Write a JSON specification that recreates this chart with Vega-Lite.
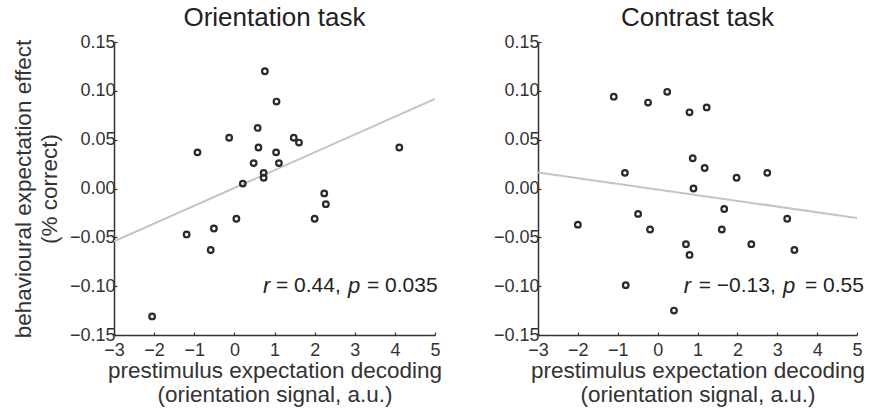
{
  "$schema": "https://vega.github.io/schema/vega-lite/v6.json",
  "padding": {"left": 12, "top": 5, "right": 5, "bottom": 5},
  "background": "white",
  "config": {
    "view": {"stroke": null},
    "font": "Liberation Sans",
    "axis": {
      "grid": false,
      "domainColor": "#333333",
      "domainWidth": 1.5,
      "tickColor": "#333333",
      "tickWidth": 1.2,
      "tickSize": -3,
      "labelColor": "#333333",
      "labelFontSize": 18,
      "labelOverlap": false,
      "labelFlush": false,
      "labelFont": "Liberation Sans",
      "titleFont": "Liberation Sans",
      "titleFontSize": 22.5,
      "titleFontWeight": "normal",
      "titleColor": "#333333"
    },
    "title": {"fontSize": 26, "fontWeight": "normal", "color": "#222222", "font": "Liberation Sans"}
  },
  "datasets": {
    "orientation": [
      {"x": 0.76, "y": 0.120}, {"x": 1.05, "y": 0.089}, {"x": 0.58, "y": 0.062},
      {"x": -0.13, "y": 0.052}, {"x": -0.92, "y": 0.037}, {"x": 0.60, "y": 0.042},
      {"x": 1.48, "y": 0.052}, {"x": 1.61, "y": 0.047}, {"x": 1.04, "y": 0.037},
      {"x": 0.48, "y": 0.026}, {"x": 1.11, "y": 0.026}, {"x": 0.73, "y": 0.016},
      {"x": 0.73, "y": 0.011}, {"x": 0.21, "y": 0.005}, {"x": 4.11, "y": 0.042},
      {"x": 2.24, "y": -0.005}, {"x": 2.28, "y": -0.016}, {"x": 0.05, "y": -0.031},
      {"x": 2.0, "y": -0.031}, {"x": -1.19, "y": -0.047}, {"x": -0.51, "y": -0.041},
      {"x": -0.59, "y": -0.063}, {"x": -2.05, "y": -0.131}
    ],
    "contrast": [
      {"x": -1.10, "y": 0.094}, {"x": -0.24, "y": 0.088}, {"x": 0.24, "y": 0.099},
      {"x": 0.80, "y": 0.078}, {"x": 1.23, "y": 0.083}, {"x": 0.88, "y": 0.031},
      {"x": 1.18, "y": 0.021}, {"x": -0.82, "y": 0.016}, {"x": 1.98, "y": 0.011},
      {"x": 2.75, "y": 0.016}, {"x": 0.90, "y": 0.000}, {"x": 1.67, "y": -0.021},
      {"x": -0.49, "y": -0.026}, {"x": 3.25, "y": -0.031}, {"x": -2.0, "y": -0.037},
      {"x": -0.19, "y": -0.042}, {"x": 1.61, "y": -0.042}, {"x": 0.71, "y": -0.057},
      {"x": 0.80, "y": -0.068}, {"x": 2.35, "y": -0.057}, {"x": 3.43, "y": -0.063},
      {"x": -0.80, "y": -0.099}, {"x": 0.41, "y": -0.125}
    ],
    "annot_orientation": [
      {"piece": "r", "style": "italic", "offset": -172},
      {"piece": "= 0.44,", "style": "normal", "offset": -159},
      {"piece": "p", "style": "italic", "offset": -87},
      {"piece": "= 0.035", "style": "normal", "offset": -68}
    ],
    "annot_contrast": [
      {"piece": "r", "style": "italic", "offset": -173.3},
      {"piece": "= −0.13,", "style": "normal", "offset": -158.3},
      {"piece": "p", "style": "italic", "offset": -74},
      {"piece": "= 0.55", "style": "normal", "offset": -52}
    ]
  },
  "hconcat": [
    {
      "width": 321,
      "height": 293,
      "title": {"text": "Orientation task", "offset": 2},
      "layer": [
        {
          "data": {"name": "orientation"},
          "transform": [{"regression": "y", "on": "x", "extent": [-3, 5]}],
          "mark": {"type": "line", "color": "#c4c4c4", "strokeWidth": 2, "clip": true},
          "encoding": {
            "x": {"field": "x", "type": "quantitative", "scale": {"domain": [-3, 5], "nice": false, "zero": false},
                  "axis": {"values": [-3, -2, -1, 0, 1, 2, 3, 4, 5], "labelOverlap": false, "title": ["prestimulus expectation decoding", "(orientation signal, a.u.)"], "labelPadding": 9, "titlePadding": 0, "titleLineHeight": 24}},
            "y": {"field": "y", "type": "quantitative", "scale": {"domain": [-0.15, 0.15], "nice": false, "zero": false},
                  "axis": {"values": [-0.15, -0.1, -0.05, 0, 0.05, 0.1, 0.15], "labelOverlap": false, "format": ".2f", "title": ["behavioural expectation effect", "(% correct)"], "labelPadding": 2, "titlePadding": 8, "titleLineHeight": 26}}
          }
        },
        {
          "data": {"name": "orientation"},
          "mark": {"type": "point", "shape": "circle", "filled": false, "stroke": "#2a2a2a", "strokeWidth": 2.2, "size": 32, "opacity": 1},
          "encoding": {
            "x": {"field": "x", "type": "quantitative", "scale": {"domain": [-3, 5], "nice": false, "zero": false},
                  "axis": {"values": [-3, -2, -1, 0, 1, 2, 3, 4, 5], "labelOverlap": false, "title": ["prestimulus expectation decoding", "(orientation signal, a.u.)"], "labelPadding": 9, "titlePadding": 0, "titleLineHeight": 24}},
            "y": {"field": "y", "type": "quantitative", "scale": {"domain": [-0.15, 0.15], "nice": false, "zero": false},
                  "axis": {"values": [-0.15, -0.1, -0.05, 0, 0.05, 0.1, 0.15], "labelOverlap": false, "format": ".2f", "title": ["behavioural expectation effect", "(% correct)"], "labelPadding": 2, "titlePadding": 8, "titleLineHeight": 26}}
          }
        },
        {
          "data": {"name": "annot_orientation"},
          "transform": [{"filter": "datum.style === 'normal'"}],
          "mark": {"type": "text", "fontSize": 21, "align": "left", "baseline": "middle", "color": "#222222"},
          "encoding": {
            "x": {"datum": 5, "type": "quantitative", "scale": {"domain": [-3, 5], "nice": false, "zero": false},
                  "axis": {"values": [-3, -2, -1, 0, 1, 2, 3, 4, 5], "labelOverlap": false, "title": ["prestimulus expectation decoding", "(orientation signal, a.u.)"], "labelPadding": 9, "titlePadding": 0, "titleLineHeight": 24}},
            "y": {"datum": -0.1, "type": "quantitative", "scale": {"domain": [-0.15, 0.15], "nice": false, "zero": false},
                  "axis": {"values": [-0.15, -0.1, -0.05, 0, 0.05, 0.1, 0.15], "labelOverlap": false, "format": ".2f", "title": ["behavioural expectation effect", "(% correct)"], "labelPadding": 2, "titlePadding": 8, "titleLineHeight": 26}},
            "text": {"field": "piece"},
            "xOffset": {"field": "offset", "type": "quantitative", "scale": null}
          }
        },
        {
          "data": {"name": "annot_orientation"},
          "transform": [{"filter": "datum.style === 'italic'"}],
          "mark": {"type": "text", "fontSize": 22, "fontStyle": "italic", "align": "left", "baseline": "middle", "color": "#222222"},
          "encoding": {
            "x": {"datum": 5, "type": "quantitative", "scale": {"domain": [-3, 5], "nice": false, "zero": false},
                  "axis": {"values": [-3, -2, -1, 0, 1, 2, 3, 4, 5], "labelOverlap": false, "title": ["prestimulus expectation decoding", "(orientation signal, a.u.)"], "labelPadding": 9, "titlePadding": 0, "titleLineHeight": 24}},
            "y": {"datum": -0.1, "type": "quantitative", "scale": {"domain": [-0.15, 0.15], "nice": false, "zero": false},
                  "axis": {"values": [-0.15, -0.1, -0.05, 0, 0.05, 0.1, 0.15], "labelOverlap": false, "format": ".2f", "title": ["behavioural expectation effect", "(% correct)"], "labelPadding": 2, "titlePadding": 8, "titleLineHeight": 26}},
            "text": {"field": "piece"},
            "xOffset": {"field": "offset", "type": "quantitative", "scale": null}
          }
        }
      ]
    },
    {
      "width": 319,
      "height": 293,
      "title": {"text": "Contrast task", "offset": 2},
      "layer": [
        {
          "data": {"name": "contrast"},
          "transform": [{"regression": "y", "on": "x", "extent": [-3, 5]}],
          "mark": {"type": "line", "color": "#c4c4c4", "strokeWidth": 2, "clip": true},
          "encoding": {
            "x": {"field": "x", "type": "quantitative", "scale": {"domain": [-3, 5], "nice": false, "zero": false},
                  "axis": {"values": [-3, -2, -1, 0, 1, 2, 3, 4, 5], "labelOverlap": false, "title": ["prestimulus expectation decoding", "(orientation signal, a.u.)"], "labelPadding": 9, "titlePadding": 0, "titleLineHeight": 24}},
            "y": {"field": "y", "type": "quantitative", "scale": {"domain": [-0.15, 0.15], "nice": false, "zero": false},
                  "axis": {"values": [-0.15, -0.1, -0.05, 0, 0.05, 0.1, 0.15], "labelOverlap": false, "format": ".2f", "title": null, "labelPadding": 2}}
          }
        },
        {
          "data": {"name": "contrast"},
          "mark": {"type": "point", "shape": "circle", "filled": false, "stroke": "#2a2a2a", "strokeWidth": 2.2, "size": 32, "opacity": 1},
          "encoding": {
            "x": {"field": "x", "type": "quantitative", "scale": {"domain": [-3, 5], "nice": false, "zero": false},
                  "axis": {"values": [-3, -2, -1, 0, 1, 2, 3, 4, 5], "labelOverlap": false, "title": ["prestimulus expectation decoding", "(orientation signal, a.u.)"], "labelPadding": 9, "titlePadding": 0, "titleLineHeight": 24}},
            "y": {"field": "y", "type": "quantitative", "scale": {"domain": [-0.15, 0.15], "nice": false, "zero": false},
                  "axis": {"values": [-0.15, -0.1, -0.05, 0, 0.05, 0.1, 0.15], "labelOverlap": false, "format": ".2f", "title": null, "labelPadding": 2}}
          }
        },
        {
          "data": {"name": "annot_contrast"},
          "transform": [{"filter": "datum.style === 'normal'"}],
          "mark": {"type": "text", "fontSize": 21, "align": "left", "baseline": "middle", "color": "#222222"},
          "encoding": {
            "x": {"datum": 5, "type": "quantitative", "scale": {"domain": [-3, 5], "nice": false, "zero": false},
                  "axis": {"values": [-3, -2, -1, 0, 1, 2, 3, 4, 5], "labelOverlap": false, "title": ["prestimulus expectation decoding", "(orientation signal, a.u.)"], "labelPadding": 9, "titlePadding": 0, "titleLineHeight": 24}},
            "y": {"datum": -0.1, "type": "quantitative", "scale": {"domain": [-0.15, 0.15], "nice": false, "zero": false},
                  "axis": {"values": [-0.15, -0.1, -0.05, 0, 0.05, 0.1, 0.15], "labelOverlap": false, "format": ".2f", "title": null, "labelPadding": 2}},
            "text": {"field": "piece"},
            "xOffset": {"field": "offset", "type": "quantitative", "scale": null}
          }
        },
        {
          "data": {"name": "annot_contrast"},
          "transform": [{"filter": "datum.style === 'italic'"}],
          "mark": {"type": "text", "fontSize": 22, "fontStyle": "italic", "align": "left", "baseline": "middle", "color": "#222222"},
          "encoding": {
            "x": {"datum": 5, "type": "quantitative", "scale": {"domain": [-3, 5], "nice": false, "zero": false},
                  "axis": {"values": [-3, -2, -1, 0, 1, 2, 3, 4, 5], "labelOverlap": false, "title": ["prestimulus expectation decoding", "(orientation signal, a.u.)"], "labelPadding": 9, "titlePadding": 0, "titleLineHeight": 24}},
            "y": {"datum": -0.1, "type": "quantitative", "scale": {"domain": [-0.15, 0.15], "nice": false, "zero": false},
                  "axis": {"values": [-0.15, -0.1, -0.05, 0, 0.05, 0.1, 0.15], "labelOverlap": false, "format": ".2f", "title": null, "labelPadding": 2}},
            "text": {"field": "piece"},
            "xOffset": {"field": "offset", "type": "quantitative", "scale": null}
          }
        }
      ]
    }
  ],
  "spacing": 103,
  "bounds": "flush"
}
